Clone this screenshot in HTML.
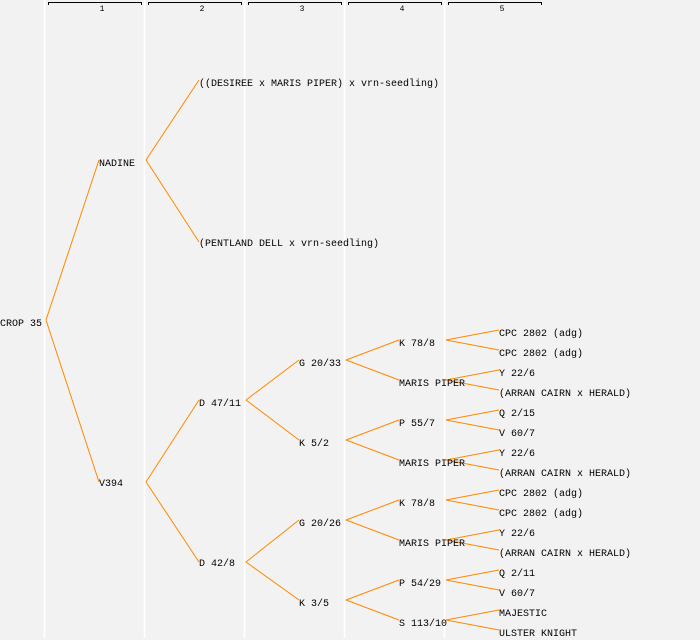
<!DOCTYPE html>
<html><head><style>
html,body{margin:0;padding:0;background:#f2f2f2;}
svg{display:block;}
text{font-family:"Liberation Mono",monospace;font-size:10px;fill:#000;}
</style></head><body>
<svg width="700" height="640" viewBox="0 0 700 640">
<rect width="700" height="640" fill="#f2f2f2"/>
<g stroke="#fff" stroke-width="1.5">
<line x1="44.5" y1="0" x2="44.5" y2="638"/><line x1="144.5" y1="0" x2="144.5" y2="638"/>
<line x1="244.5" y1="0" x2="244.5" y2="638"/><line x1="344.5" y1="0" x2="344.5" y2="638"/>
<line x1="444.5" y1="0" x2="444.5" y2="638"/>
</g>
<g stroke="#000" stroke-width="1" fill="none">
<path d="M48.5,5V2.5H141.5V5"/><path d="M148.5,5V2.5H241.5V5"/><path d="M248.5,5V2.5H341.5V5"/><path d="M348.5,5V2.5H441.5V5"/><path d="M448.5,5V2.5H541.5V5"/>
</g>
<g text-anchor="middle">
<text x="102" y="11" style="font-size:8px">1</text><text x="202" y="11" style="font-size:8px">2</text><text x="302" y="11" style="font-size:8px">3</text><text x="402" y="11" style="font-size:8px">4</text><text x="502" y="11" style="font-size:8px">5</text>
</g>
<g stroke="#ff8800" stroke-width="1" fill="none">
<path d="M46,320L99,160M46,320L99,482"/>
<path d="M146,160L199,80M146,160L199,242"/>
<path d="M146,482L199,400M146,482L199,562"/>
<path d="M246,400L299,360M246,400L299,440M246,562L299,520M246,562L299,600"/>
<path d="M346,360L399,340M346,360L399,380M346,440L399,420M346,440L399,460M346,520L399,500M346,520L399,540M346,600L399,580M346,600L399,620"/>
<path d="M446,340L499,330M446,340L499,350M446,380L499,370M446,380L499,390M446,420L499,410M446,420L499,430M446,460L499,450M446,460L499,470M446,500L499,490M446,500L499,510M446,540L499,530M446,540L499,550M446,580L499,570M446,580L499,590M446,620L499,610M446,620L499,630"/>
</g>
<g>
<text x="0" y="326">CROP 35</text>
<text x="99" y="166">NADINE</text>
<text x="99" y="486">V394</text>
<text x="199" y="86">((DESIREE x MARIS PIPER) x vrn-seedling)</text>
<text x="199" y="246">(PENTLAND DELL x vrn-seedling)</text>
<text x="199" y="406">D 47/11</text>
<text x="199" y="566">D 42/8</text>
<text x="299" y="366">G 20/33</text>
<text x="299" y="446">K 5/2</text>
<text x="299" y="526">G 20/26</text>
<text x="299" y="606">K 3/5</text>
<text x="399" y="346">K 78/8</text>
<text x="399" y="386">MARIS PIPER</text>
<text x="399" y="426">P 55/7</text>
<text x="399" y="466">MARIS PIPER</text>
<text x="399" y="506">K 78/8</text>
<text x="399" y="546">MARIS PIPER</text>
<text x="399" y="586">P 54/29</text>
<text x="399" y="626">S 113/10</text>
<text x="499" y="336">CPC 2802 (adg)</text>
<text x="499" y="356">CPC 2802 (adg)</text>
<text x="499" y="376">Y 22/6</text>
<text x="499" y="396">(ARRAN CAIRN x HERALD)</text>
<text x="499" y="416">Q 2/15</text>
<text x="499" y="436">V 60/7</text>
<text x="499" y="456">Y 22/6</text>
<text x="499" y="476">(ARRAN CAIRN x HERALD)</text>
<text x="499" y="496">CPC 2802 (adg)</text>
<text x="499" y="516">CPC 2802 (adg)</text>
<text x="499" y="536">Y 22/6</text>
<text x="499" y="556">(ARRAN CAIRN x HERALD)</text>
<text x="499" y="576">Q 2/11</text>
<text x="499" y="596">V 60/7</text>
<text x="499" y="616">MAJESTIC</text>
<text x="499" y="636">ULSTER KNIGHT</text>
</g>
</svg>
</body></html>
